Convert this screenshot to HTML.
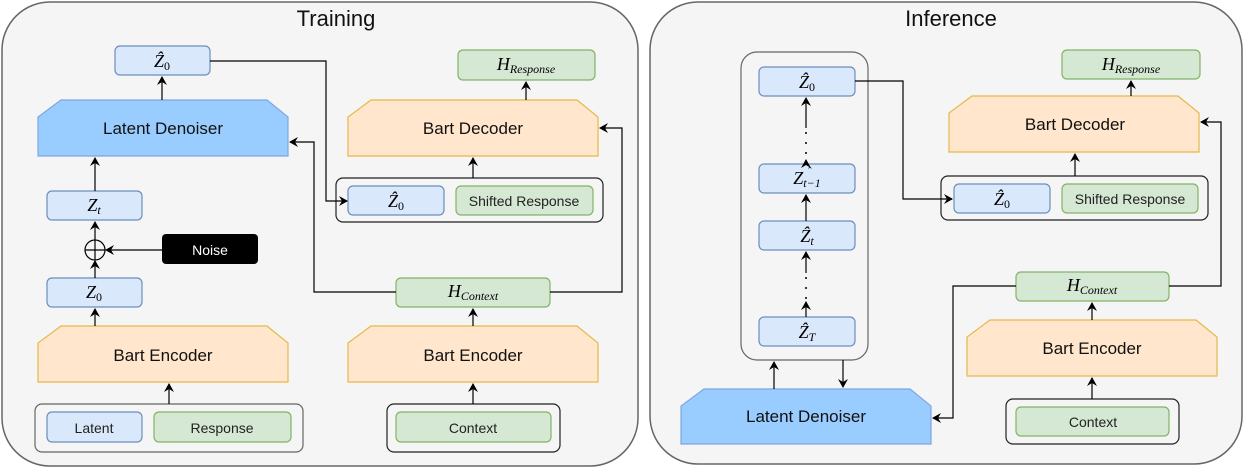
<!DOCTYPE html>
<html><head><meta charset="utf-8"><style>
html,body{margin:0;padding:0;background:#fff;}
svg{display:block;}
text{font-family:"Liberation Sans",sans-serif;}
.m{font-family:"Liberation Serif",serif;font-style:italic;}
</style></head><body>
<svg width="1244" height="470" viewBox="0 0 1244 470" xmlns="http://www.w3.org/2000/svg">
<defs>
<marker id="a" markerWidth="10" markerHeight="10" refX="8" refY="5" orient="auto" markerUnits="userSpaceOnUse">
<path d="M0,0 L9,5 L0,10 L3,5 Z" fill="#000"/></marker>
</defs>
<rect x="2" y="2" width="636" height="464" rx="48" fill="#f5f5f5" stroke="#666" stroke-width="1.5"/>
<rect x="650" y="2" width="592" height="462" rx="48" fill="#f5f5f5" stroke="#666" stroke-width="1.5"/>
<text x="336" y="26" font-size="22" text-anchor="middle" fill="#111">Training</text>
<text x="951" y="26" font-size="22" text-anchor="middle" fill="#111">Inference</text>

<g stroke-width="1.2">
<rect x="115" y="46" width="95" height="29" rx="5" fill="#dae8fc" stroke="#6c8ebf"/>
<text x="162" y="67" class="m" font-size="18" text-anchor="middle">Ẑ<tspan font-size="12" font-style="normal" dy="3">0</tspan></text>
<path d="M61,100 L267,100 L288,117 L288,156 L38,156 L38,117 Z" fill="#99ccff" stroke="#7ea6e0"/>
<text x="163" y="134" font-size="17" text-anchor="middle" fill="#111">Latent Denoiser</text>
<rect x="47" y="191" width="95" height="29" rx="5" fill="#dae8fc" stroke="#6c8ebf"/>
<text x="94" y="211" class="m" font-size="18" text-anchor="middle">Z<tspan font-size="12" dy="3">t</tspan></text>
<circle cx="95" cy="250" r="10" fill="none" stroke="#000"/>
<line x1="85" y1="250" x2="105" y2="250" stroke="#000"/><line x1="95" y1="240" x2="95" y2="260" stroke="#000"/>
<rect x="162" y="234" width="96" height="30" rx="4" fill="#000"/>
<text x="210" y="255" font-size="14" text-anchor="middle" fill="#fff">Noise</text>
<rect x="47" y="278" width="95" height="29" rx="5" fill="#dae8fc" stroke="#6c8ebf"/>
<text x="94" y="298" class="m" font-size="18" text-anchor="middle">Z<tspan font-size="12" font-style="normal" dy="3">0</tspan></text>
<path d="M61,326 L267,326 L288,343 L288,382 L38,382 L38,343 Z" fill="#ffe6cc" stroke="#e6b84a"/>
<text x="163" y="361" font-size="17" text-anchor="middle" fill="#111">Bart Encoder</text>
<rect x="35" y="404" width="268" height="48" rx="7" fill="none" stroke="#666"/>
<rect x="47" y="412" width="95" height="30" rx="5" fill="#dae8fc" stroke="#6c8ebf"/>
<text x="94" y="433" font-size="14" text-anchor="middle" fill="#222">Latent</text>
<rect x="154" y="412" width="137" height="30" rx="5" fill="#d5e8d4" stroke="#82b366"/>
<text x="222" y="433" font-size="14" text-anchor="middle" fill="#222">Response</text>

<rect x="458" y="50" width="137" height="30" rx="5" fill="#d5e8d4" stroke="#82b366"/>
<text x="526" y="70" class="m" font-size="18" text-anchor="middle">H<tspan font-size="12" dy="3">Response</tspan></text>
<path d="M371,100 L577,100 L598,117 L598,156 L348,156 L348,117 Z" fill="#ffe6cc" stroke="#e6b84a"/>
<text x="473" y="134" font-size="17" text-anchor="middle" fill="#111">Bart Decoder</text>
<rect x="336" y="178" width="267" height="44" rx="7" fill="none" stroke="#222"/>
<rect x="348" y="186" width="96" height="29" rx="5" fill="#dae8fc" stroke="#6c8ebf"/>
<text x="396" y="207" class="m" font-size="18" text-anchor="middle">Ẑ<tspan font-size="12" font-style="normal" dy="3">0</tspan></text>
<rect x="456" y="186" width="137" height="29" rx="5" fill="#d5e8d4" stroke="#82b366"/>
<text x="524" y="206" font-size="14" text-anchor="middle" fill="#222">Shifted Response</text>
<rect x="396" y="278" width="154" height="29" rx="5" fill="#d5e8d4" stroke="#82b366"/>
<text x="473" y="297" class="m" font-size="18" text-anchor="middle">H<tspan font-size="12" dy="3">Context</tspan></text>
<path d="M371,326 L577,326 L598,343 L598,382 L348,382 L348,343 Z" fill="#ffe6cc" stroke="#e6b84a"/>
<text x="473" y="361" font-size="17" text-anchor="middle" fill="#111">Bart Encoder</text>
<rect x="387" y="404" width="173" height="48" rx="7" fill="none" stroke="#222"/>
<rect x="396" y="412" width="155" height="30" rx="5" fill="#d5e8d4" stroke="#82b366"/>
<text x="473" y="433" font-size="14" text-anchor="middle" fill="#222">Context</text>

<g stroke="#000" fill="none" marker-end="url(#a)">
<line x1="162" y1="100" x2="162" y2="77"/>
<line x1="95" y1="191" x2="95" y2="158"/>
<line x1="95" y1="240" x2="95" y2="222"/>
<line x1="95" y1="278" x2="95" y2="261"/>
<line x1="162" y1="250" x2="106" y2="250"/>
<line x1="95" y1="326" x2="95" y2="309"/>
<line x1="169" y1="404" x2="169" y2="384"/>
<line x1="473" y1="404" x2="473" y2="384"/>
<line x1="473" y1="326" x2="473" y2="309"/>
<line x1="473" y1="178" x2="473" y2="158"/>
<line x1="526" y1="100" x2="526" y2="82"/>
<polyline points="210,61 326,61 326,201 347,201"/>
<polyline points="396,292 314,292 314,142 290,142"/>
<polyline points="550,292 622,292 622,128 600,128"/>
</g>

<rect x="741" y="52" width="127" height="308" rx="16" fill="none" stroke="#666"/>
<rect x="759" y="67" width="96" height="29" rx="5" fill="#dae8fc" stroke="#6c8ebf"/>
<text x="807" y="88" class="m" font-size="18" text-anchor="middle">Ẑ<tspan font-size="12" font-style="normal" dy="3">0</tspan></text>
<rect x="759" y="164" width="96" height="29" rx="5" fill="#dae8fc" stroke="#6c8ebf"/>
<text x="807" y="184" class="m" font-size="18" text-anchor="middle">Z<tspan font-size="12" dy="3">t−1</tspan></text>
<text x="810" y="175" font-size="11" text-anchor="middle">ˆ</text>
<rect x="759" y="221" width="96" height="29" rx="5" fill="#dae8fc" stroke="#6c8ebf"/>
<text x="807" y="242" class="m" font-size="18" text-anchor="middle">Ẑ<tspan font-size="12" dy="3">t</tspan></text>
<rect x="759" y="317" width="96" height="29" rx="5" fill="#dae8fc" stroke="#6c8ebf"/>
<text x="807" y="338" class="m" font-size="18" text-anchor="middle">Ẑ<tspan font-size="12" dy="3">T</tspan></text>
<g fill="#000"><circle cx="806" cy="143" r="1"/><circle cx="806" cy="153" r="1"/><circle cx="806" cy="133" r="1"/>
<circle cx="806" cy="288" r="1"/><circle cx="806" cy="298" r="1"/><circle cx="806" cy="278" r="1"/></g>
<path d="M704,389 L910,389 L931,406 L931,444 L681,444 L681,406 Z" fill="#99ccff" stroke="#7ea6e0"/>
<text x="806" y="422" font-size="17" text-anchor="middle" fill="#111">Latent Denoiser</text>

<rect x="1062" y="50" width="138" height="29" rx="5" fill="#d5e8d4" stroke="#82b366"/>
<text x="1131" y="70" class="m" font-size="18" text-anchor="middle">H<tspan font-size="12" dy="3">Response</tspan></text>
<path d="M972,96 L1178,96 L1199,113 L1199,152 L949,152 L949,113 Z" fill="#ffe6cc" stroke="#e6b84a"/>
<text x="1075" y="130" font-size="17" text-anchor="middle" fill="#111">Bart Decoder</text>
<rect x="941" y="176" width="267" height="44" rx="7" fill="none" stroke="#222"/>
<rect x="954" y="184" width="96" height="29" rx="5" fill="#dae8fc" stroke="#6c8ebf"/>
<text x="1002" y="205" class="m" font-size="18" text-anchor="middle">Ẑ<tspan font-size="12" font-style="normal" dy="3">0</tspan></text>
<rect x="1062" y="184" width="136" height="29" rx="5" fill="#d5e8d4" stroke="#82b366"/>
<text x="1130" y="204" font-size="14" text-anchor="middle" fill="#222">Shifted Response</text>
<rect x="1016" y="272" width="153" height="29" rx="5" fill="#d5e8d4" stroke="#82b366"/>
<text x="1092" y="291" class="m" font-size="18" text-anchor="middle">H<tspan font-size="12" dy="3">Context</tspan></text>
<path d="M990,320 L1196,320 L1217,337 L1217,376 L967,376 L967,337 Z" fill="#ffe6cc" stroke="#e6b84a"/>
<text x="1092" y="354" font-size="17" text-anchor="middle" fill="#111">Bart Encoder</text>
<rect x="1006" y="399" width="173" height="45" rx="7" fill="none" stroke="#222"/>
<rect x="1016" y="407" width="153" height="29" rx="5" fill="#d5e8d4" stroke="#82b366"/>
<text x="1093" y="427" font-size="14" text-anchor="middle" fill="#222">Context</text>

<g stroke="#000" fill="none" marker-end="url(#a)">
<line x1="806" y1="128" x2="806" y2="98"/>
<line x1="806" y1="164" x2="806" y2="160"/>
<line x1="806" y1="221" x2="806" y2="195"/>
<line x1="806" y1="273" x2="806" y2="252"/>
<line x1="806" y1="317" x2="806" y2="302"/>
<line x1="774" y1="389" x2="774" y2="362"/>
<line x1="843" y1="360" x2="843" y2="387"/>
<line x1="1092" y1="399" x2="1092" y2="378"/>
<line x1="1092" y1="320" x2="1092" y2="303"/>
<line x1="1075" y1="176" x2="1075" y2="154"/>
<line x1="1131" y1="96" x2="1131" y2="81"/>
<polyline points="855,81 903,81 903,199 952,199"/>
<polyline points="1016,286 953,286 953,418 933,418"/>
<polyline points="1169,286 1221,286 1221,122 1201,122"/>
</g>
</g>
</svg>
</body></html>
